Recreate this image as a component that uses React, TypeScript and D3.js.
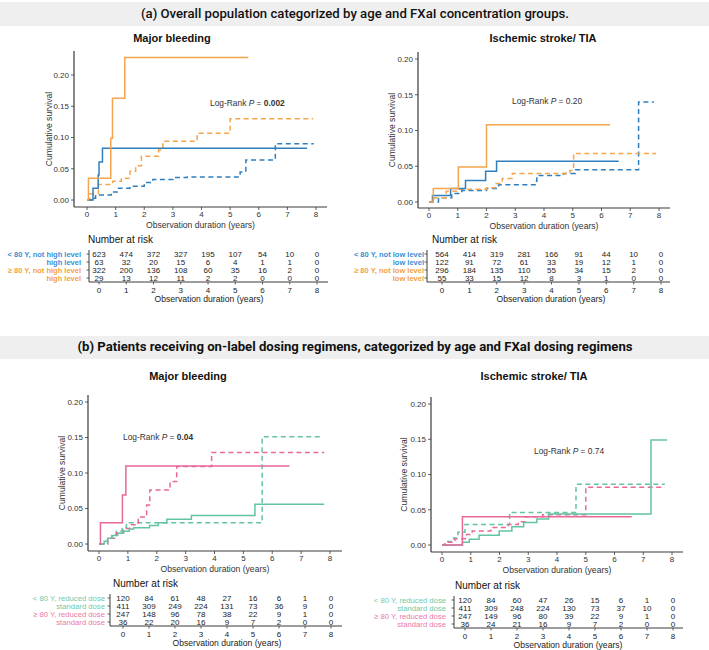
import * as d3 from "d3";

type Pt = [number, number];

const years = [0, 1, 2, 3, 4, 5, 6, 7, 8];
const yTicks = [0, 0.05, 0.1, 0.15, 0.2];

// (a) major bleeding
const aBleedHighU80: Pt[] = [[0, 0], [0.21, 0.019], [0.39, 0.04], [0.42, 0.061], [0.54, 0.083], [7.69, 0.083]];
const aBleedNotHighU80: Pt[] = [[0, 0], [0.15, 0.003], [0.3, 0.008], [0.85, 0.013], [1.1, 0.019], [1.5, 0.022], [2.0, 0.028], [2.3, 0.033], [3.0, 0.036], [3.5, 0.037], [5.35, 0.045], [5.55, 0.064], [6.58, 0.09], [7.92, 0.09]];
const aBleedHigh80: Pt[] = [[0, 0], [0.05, 0.035], [0.83, 0.099], [0.89, 0.163], [1.32, 0.228], [5.64, 0.228]];
const aBleedNotHigh80: Pt[] = [[0, 0], [0.1, 0.01], [0.4, 0.025], [0.9, 0.03], [1.2, 0.035], [1.5, 0.046], [1.7, 0.055], [1.9, 0.07], [2.5, 0.08], [2.65, 0.094], [3.85, 0.107], [5.0, 0.13], [7.9, 0.13]];

// (a) ischemic stroke / TIA
const aStrokeLowU80: Pt[] = [[0, 0], [0.12, 0.009], [0.75, 0.019], [1.27, 0.03], [1.97, 0.043], [2.35, 0.057], [6.6, 0.057]];
const aStrokeNotLowU80: Pt[] = [[0, 0], [0.33, 0.006], [0.79, 0.012], [1.14, 0.016], [2.0, 0.019], [2.42, 0.024], [3.69, 0.029], [3.75, 0.037], [4.68, 0.04], [5.09, 0.045], [7.29, 0.14], [7.82, 0.14]];
const aStrokeLow80: Pt[] = [[0, 0], [0.15, 0.019], [1.02, 0.049], [2.0, 0.108], [6.3, 0.108]];
const aStrokeNotLow80: Pt[] = [[0, 0], [0.2, 0.006], [0.6, 0.015], [1.0, 0.018], [2.0, 0.02], [2.3, 0.026], [2.55, 0.033], [2.9, 0.04], [4.9, 0.044], [5.03, 0.068], [7.9, 0.068]];

// (b) major bleeding
const bBleedStd80: Pt[] = [[0, 0], [0.05, 0.03], [0.81, 0.069], [0.93, 0.11], [6.6, 0.11]];
const bBleedRed80: Pt[] = [[0, 0], [0.3, 0.008], [0.6, 0.016], [0.85, 0.022], [1.07, 0.027], [1.36, 0.038], [1.65, 0.055], [1.76, 0.076], [2.46, 0.088], [2.69, 0.109], [3.9, 0.129], [7.8, 0.129]];
const bBleedStdU80: Pt[] = [[0, 0], [0.18, 0.004], [0.3, 0.008], [0.45, 0.012], [0.65, 0.015], [0.85, 0.018], [1.05, 0.021], [1.2, 0.023], [1.75, 0.026], [2.05, 0.03], [2.35, 0.035], [3.2, 0.04], [5.4, 0.056], [7.8, 0.056]];
const bBleedRedU80: Pt[] = [[0, 0], [0.3, 0.008], [0.45, 0.013], [0.6, 0.018], [0.8, 0.023], [0.95, 0.03], [5.65, 0.151], [7.7, 0.151]];

// (b) ischemic stroke / TIA
const bStrokeStd80: Pt[] = [[0, 0], [0.71, 0.04], [6.6, 0.04]];
const bStrokeStdU80: Pt[] = [[0, 0], [0.71, 0.004], [0.95, 0.008], [1.29, 0.014], [1.99, 0.02], [2.43, 0.026], [2.84, 0.032], [3.3, 0.037], [3.71, 0.044], [7.27, 0.149], [7.83, 0.149]];
const bStrokeRedU80: Pt[] = [[0, 0], [0.2, 0.005], [0.4, 0.01], [0.55, 0.018], [0.8, 0.029], [2.35, 0.046], [4.66, 0.086], [7.75, 0.086]];
const bStrokeRed80: Pt[] = [[0, 0], [0.1, 0.004], [0.45, 0.009], [0.85, 0.015], [1.05, 0.02], [1.7, 0.025], [2.3, 0.029], [2.65, 0.033], [2.9, 0.04], [3.5, 0.043], [5.0, 0.082], [7.75, 0.082]];

// number at risk
const aBleedRisk = [
  [623, 474, 372, 327, 195, 107, 54, 10, 0],
  [63, 32, 20, 15, 6, 4, 1, 1, 0],
  [322, 200, 136, 108, 60, 35, 16, 2, 0],
  [29, 13, 12, 11, 2, 2, 0, 0, 0],
];
const aStrokeRisk = [
  [564, 414, 319, 281, 166, 91, 44, 10, 0],
  [122, 91, 72, 61, 33, 19, 12, 1, 0],
  [296, 184, 135, 110, 55, 34, 15, 2, 0],
  [55, 33, 15, 12, 8, 3, 1, 0, 0],
];
const bBleedRisk = [
  [120, 84, 61, 48, 27, 16, 6, 1, 0],
  [411, 309, 249, 224, 131, 73, 36, 9, 0],
  [247, 148, 96, 78, 38, 22, 9, 1, 0],
  [36, 22, 20, 16, 9, 7, 2, 0, 0],
];
const bStrokeRisk = [
  [120, 84, 60, 47, 26, 15, 6, 1, 0],
  [411, 309, 248, 224, 130, 73, 37, 10, 0],
  [247, 149, 96, 80, 39, 22, 9, 1, 0],
  [36, 24, 21, 16, 9, 7, 2, 0, 0],
];

const highLabels = ["< 80 Y, not high level", "high level", "\u2265 80 Y, not high level", "high level"];
const lowLabels = ["< 80 Y, not low level", "low level", "\u2265 80 Y, not low level", "low level"];
const doseLabels = ["< 80 Y, reduced dose", "standard dose", "\u2265 80 Y, reduced dose", "standard dose"];

const BLUE = "#2f7fbf";
const ORANGE = "#f5a54c";
const GREEN = "#62c4a1";
const PINK = "#e8689a";
const BLUE_T = "#3b8ed2";
const ORANGE_T = "#f4a23e";
const GREEN_T = "#70c9a8";
const PINK_T = "#ea7aa8";

const FONT = "'Liberation Sans', Arial, sans-serif";
const AX = "#3a3a3a";

interface Curve { pts: Pt[]; color: string; dashed: boolean }

interface PanelCfg {
  title: string;
  titleX: number;
  titleY: number;
  xPx: [number, number];
  axisX: [number, number];
  yPx: [number, number];
  axisY: [number, number];
  yTitleX: number;
  lr: { x: number; y: number; p: string; bold: boolean };
  curves: Curve[];
  tab: {
    hx: number; hy: number; rowY: number[]; labelX: number; vx: number;
    xPx: [number, number]; hy2: number; hr: number; tickY: number; titleY: number; titleX: number;
    rows: number[][]; labels: string[]; colors: string[]; weight: string; labelSize: number;
  };
}

function Panel({ c }: { c: PanelCfg }) {
  const x = d3.scaleLinear().domain([0, 8]).range(c.xPx);
  const y = d3.scaleLinear().domain([0, 0.2]).range(c.yPx);
  const line = d3.line<Pt>().x((d) => x(d[0])).y((d) => y(d[1])).curve(d3.curveStepAfter);
  const t = c.tab;
  const tx = d3.scaleLinear().domain([0, 8]).range(t.xPx);
  const [axL, axR] = c.axisX;
  const [axT, axB] = c.axisY;
  return (
    <g fontFamily={FONT}>
      <text x={c.titleX} y={c.titleY} textAnchor="middle" fontSize={11} fontWeight="bold" fill="#111">{c.title}</text>
      {c.curves.map((cv, i) => (
        <path key={i} d={line(cv.pts) ?? ""} fill="none" stroke={cv.color} strokeWidth={1.5}
          strokeDasharray={cv.dashed ? "5,3.5" : undefined} />
      ))}
      <line x1={axL} x2={axL} y1={axT} y2={axB} stroke={AX} strokeWidth={1.2} />
      <line x1={axL} x2={axR} y1={axB} y2={axB} stroke={AX} strokeWidth={1.2} />
      {yTicks.map((v) => (
        <g key={v}>
          <line x1={axL - 3} x2={axL} y1={y(v)} y2={y(v)} stroke={AX} strokeWidth={0.8} />
          <text x={axL - 5} y={y(v)} dy="0.35em" textAnchor="end" fontSize={8} fill="#333">{v.toFixed(2)}</text>
        </g>
      ))}
      {years.map((v) => (
        <g key={v}>
          <line x1={x(v)} x2={x(v)} y1={axB} y2={axB + 3} stroke={AX} strokeWidth={0.8} />
          <text x={x(v)} y={axB + 10} textAnchor="middle" fontSize={8} fill="#333">{v}</text>
        </g>
      ))}
      <text x={(axL + axR) / 2} y={axB + 21} textAnchor="middle" fontSize={8.6} fill="#333">Observation duration (years)</text>
      <text transform={`translate(${c.yTitleX},${(axT + axB) / 2}) rotate(-90)`} textAnchor="middle" fontSize={8.6} fill="#333">Cumulative survival</text>
      <text x={c.lr.x} y={c.lr.y} fontSize={8.4} fill="#333">
        Log-Rank <tspan fontStyle="italic">P</tspan> = <tspan fontWeight={c.lr.bold ? "bold" : "normal"}>{c.lr.p}</tspan>
      </text>

      {/* number at risk table */}
      <text x={t.hx} y={t.hy} dy="0.35em" fontSize={10} fill="#111">Number at risk</text>
      <line x1={t.vx} x2={t.vx} y1={t.rowY[0] - 4} y2={t.hy2} stroke={AX} strokeWidth={1} />
      <line x1={t.vx} x2={t.hr} y1={t.hy2} y2={t.hy2} stroke={AX} strokeWidth={1} />
      {t.rows.map((row, ri) => (
        <g key={ri}>
          <line x1={t.vx - 2.5} x2={t.vx} y1={t.rowY[ri]} y2={t.rowY[ri]} stroke={AX} strokeWidth={0.8} />
          <text x={t.labelX} y={t.rowY[ri]} dy="0.35em" textAnchor="end" fontSize={t.labelSize} fontWeight={t.weight} fill={t.colors[ri]}>{t.labels[ri]}</text>
          {row.map((n, j) => (
            <text key={j} x={tx(years[j])} y={t.rowY[ri]} dy="0.35em" textAnchor="middle" fontSize={8} fill="#222">{n}</text>
          ))}
        </g>
      ))}
      {years.map((v) => (
        <g key={v}>
          <line x1={tx(v)} x2={tx(v)} y1={t.hy2} y2={t.hy2 + 2.5} stroke={AX} strokeWidth={0.8} />
          <text x={tx(v)} y={t.tickY} dy="0.35em" textAnchor="middle" fontSize={8} fill="#222">{v}</text>
        </g>
      ))}
      <text x={t.titleX} y={t.titleY} dy="0.35em" textAnchor="middle" fontSize={8.6} fill="#222">Observation duration (years)</text>
    </g>
  );
}

const panels: PanelCfg[] = [
  {
    title: "Major bleeding", titleX: 172, titleY: 42,
    xPx: [87, 316], axisX: [74, 327], yPx: [200, 75], axisY: [51, 207], yTitleX: 52,
    lr: { x: 210, y: 106, p: "0.002", bold: true },
    curves: [
      { pts: aBleedNotHighU80, color: BLUE, dashed: true },
      { pts: aBleedNotHigh80, color: ORANGE, dashed: true },
      { pts: aBleedHighU80, color: BLUE, dashed: false },
      { pts: aBleedHigh80, color: ORANGE, dashed: false },
    ],
    tab: {
      hx: 88, hy: 239, rowY: [254, 262, 270, 278], labelX: 81, vx: 89, xPx: [99, 317], hy2: 282, hr: 328,
      tickY: 290, titleY: 299, titleX: 209, rows: aBleedRisk, labels: highLabels,
      colors: [BLUE_T, BLUE_T, ORANGE_T, ORANGE_T], weight: "bold", labelSize: 7.5,
    },
  },
  {
    title: "Ischemic stroke/ TIA", titleX: 543, titleY: 42,
    xPx: [429, 659], axisX: [418, 670], yPx: [202, 59], axisY: [52, 208], yTitleX: 395,
    lr: { x: 512, y: 104, p: "0.20", bold: false },
    curves: [
      { pts: aStrokeNotLowU80, color: BLUE, dashed: true },
      { pts: aStrokeNotLow80, color: ORANGE, dashed: true },
      { pts: aStrokeLowU80, color: BLUE, dashed: false },
      { pts: aStrokeLow80, color: ORANGE, dashed: false },
    ],
    tab: {
      hx: 432, hy: 239, rowY: [254, 262, 270, 278], labelX: 424, vx: 427, xPx: [442, 661], hy2: 282, hr: 670,
      tickY: 290, titleY: 299, titleX: 551, rows: aStrokeRisk, labels: lowLabels,
      colors: [BLUE_T, BLUE_T, ORANGE_T, ORANGE_T], weight: "bold", labelSize: 7.5,
    },
  },
  {
    title: "Major bleeding", titleX: 188, titleY: 380,
    xPx: [99, 330], axisX: [88, 342], yPx: [544, 402], axisY: [395, 551], yTitleX: 65,
    lr: { x: 123, y: 440, p: "0.04", bold: true },
    curves: [
      { pts: bBleedRedU80, color: GREEN, dashed: true },
      { pts: bBleedRed80, color: PINK, dashed: true },
      { pts: bBleedStdU80, color: GREEN, dashed: false },
      { pts: bBleedStd80, color: PINK, dashed: false },
    ],
    tab: {
      hx: 113, hy: 583, rowY: [598, 606, 614, 622], labelX: 105, vx: 110, xPx: [123, 331], hy2: 626, hr: 342,
      tickY: 634, titleY: 643, titleX: 227, rows: bBleedRisk, labels: doseLabels,
      colors: [GREEN_T, GREEN_T, PINK_T, PINK_T], weight: "normal", labelSize: 7.7,
    },
  },
  {
    title: "Ischemic stroke/ TIA", titleX: 534, titleY: 380,
    xPx: [442, 672], axisX: [431, 683], yPx: [545, 404], axisY: [397, 552], yTitleX: 407,
    lr: { x: 534, y: 454, p: "0.74", bold: false },
    curves: [
      { pts: bStrokeRedU80, color: GREEN, dashed: true },
      { pts: bStrokeRed80, color: PINK, dashed: true },
      { pts: bStrokeStdU80, color: GREEN, dashed: false },
      { pts: bStrokeStd80, color: PINK, dashed: false },
    ],
    tab: {
      hx: 455, hy: 585, rowY: [600, 608, 616, 624], labelX: 446, vx: 454, xPx: [465, 673], hy2: 628, hr: 683,
      tickY: 636, titleY: 645, titleX: 568, rows: bStrokeRisk, labels: doseLabels,
      colors: [GREEN_T, GREEN_T, PINK_T, PINK_T], weight: "normal", labelSize: 7.7,
    },
  },
];

export default function App() {
  return (
    <svg width={709} height={650} style={{ position: "absolute", left: 0, top: 0, background: "#fff" }}>
      <rect x={0} y={2} width={709} height={24} fill="#efefef" />
      <text x={355} y={14} dy="0.35em" textAnchor="middle" fontFamily="Roboto, sans-serif" fontWeight={500}
        fontSize={12} fill="#111" textLength={428} lengthAdjust="spacingAndGlyphs">
        (a) Overall population categorized by age and FXaI concentration groups.
      </text>
      <rect x={0} y={336} width={709} height={23} fill="#efefef" />
      <text x={355} y={347} dy="0.35em" textAnchor="middle" fontFamily="Roboto, sans-serif" fontWeight="bold"
        fontSize={12} fill="#111" textLength={555} lengthAdjust="spacingAndGlyphs">
        (b) Patients receiving on-label dosing regimens, categorized by age and FXaI dosing regimens
      </text>
      {panels.map((p, i) => <Panel key={i} c={p} />)}
    </svg>
  );
}
